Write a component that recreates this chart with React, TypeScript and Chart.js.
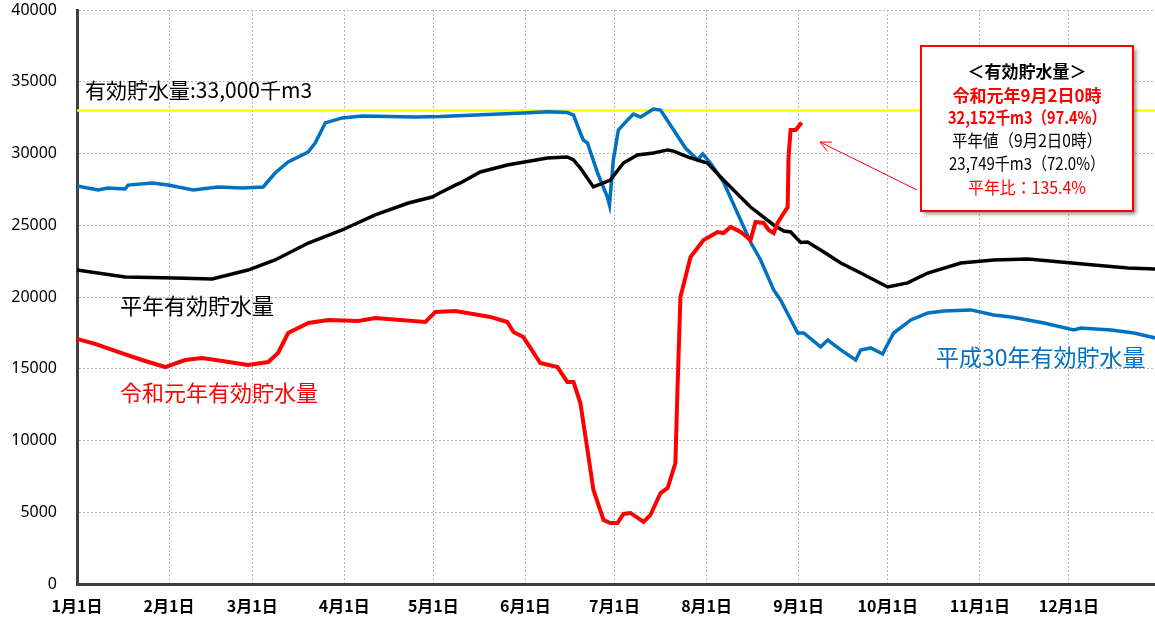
import React, { useEffect, useRef } from "react";
import { Chart, registerables } from "chart.js";

Chart.register(...registerables);

// ---- axis / category data ----
const monthStartDays = [0, 31, 59, 90, 120, 151, 181, 212, 243, 273, 304, 334];
const monthLabels = ["1月1日", "2月1日", "3月1日", "4月1日", "5月1日", "6月1日", "7月1日", "8月1日", "9月1日", "10月1日", "11月1日", "12月1日"];
const yMin = 0;
const yMax = 40000;
const yStep = 5000;
const xMax = 363;

// ---- effective capacity ----
const capacityDays = [0, 363];
const capacityValues = [33000, 33000];

// ---- 平成30年 (blue) ----
const h30Days = [0, 7.1, 10.4, 16.2, 17.2, 25.3, 30.7, 39.1, 47.5, 55.6, 62.7, 66.7, 71.1, 77.8, 80.2, 83.6, 89.3, 96.1, 113.9, 122.3, 150.3, 158.4, 165.1, 167.2, 169.5, 170.5, 171.9, 175.3, 178.6, 179.3, 180.6, 182.3, 185.4, 187.4, 189.8, 194.1, 196.5, 200.9, 204.9, 209.0, 210.7, 213.3, 217.7, 226.8, 230.2, 234.6, 236.9, 242.7, 244.7, 250.4, 252.8, 257.2, 262.2, 263.9, 267.3, 271.3, 272.3, 275.0, 280.8, 286.5, 291.9, 301.0, 308.7, 314.5, 320.2, 325.6, 335.7, 338.0, 348.2, 355.9, 363.3];
const h30Values = [27740, 27460, 27600, 27530, 27800, 27950, 27800, 27460, 27670, 27600, 27670, 28640, 29410, 30100, 30730, 32130, 32480, 32610, 32540, 32570, 32820, 32910, 32850, 32680, 31430, 30940, 30730, 28640, 26970, 26410, 29550, 31640, 32340, 32750, 32540, 33100, 33030, 31640, 30380, 29550, 29970, 29340, 28010, 23830, 22580, 20490, 19790, 17490, 17490, 16520, 17000, 16310, 15610, 16310, 16450, 16030, 16450, 17490, 18400, 18890, 19030, 19100, 18750, 18610, 18400, 18190, 17700, 17840, 17700, 17490, 17140];

// ---- 平年 (black) ----
const normalDays = [0, 16.2, 33.0, 45.5, 57.6, 66.7, 77.9, 89.3, 100.4, 111.6, 119.6, 122.3, 127.4, 129.1, 135.8, 144.9, 158.4, 165.1, 167.2, 169.5, 173.9, 179.6, 184.0, 188.7, 194.1, 198.9, 200.9, 205.6, 210.0, 212.3, 217.7, 226.8, 230.2, 234.6, 238.0, 240.3, 243.7, 246.0, 250.4, 257.2, 263.9, 273.0, 279.7, 286.5, 297.6, 308.7, 320.2, 331.3, 342.4, 353.9, 363.3];
const normalValues = [21880, 21390, 21320, 21260, 21880, 22580, 23760, 24670, 25720, 26550, 26970, 27260, 27800, 27950, 28710, 29200, 29690, 29760, 29550, 28990, 27670, 28150, 29340, 29900, 30040, 30250, 30170, 29760, 29480, 29340, 28150, 26270, 25720, 25020, 24600, 24530, 23800, 23830, 23280, 22370, 21670, 20700, 20980, 21670, 22370, 22580, 22650, 22440, 22230, 22020, 21950];

// ---- 令和元年 (red) ----
const r1Days = [0, 6.1, 13.8, 21.9, 29.7, 36.4, 42.1, 48.9, 57.6, 64.4, 67.7, 71.1, 77.9, 84.6, 94.7, 100.4, 117.3, 120.7, 127.4, 139.2, 144.9, 147.0, 150.3, 156.0, 161.8, 165.1, 167.2, 169.5, 171.9, 173.9, 177.3, 179.6, 182.0, 184.0, 186.4, 190.8, 193.1, 196.5, 198.9, 201.5, 202.2, 203.2, 206.6, 211.0, 215.7, 217.7, 220.1, 223.5, 226.8, 228.5, 231.2, 232.9, 234.6, 235.9, 238.0, 239.3, 239.6, 240.3, 242.0, 244.0];
const r1Values = [17070, 16730, 16170, 15610, 15120, 15610, 15750, 15540, 15260, 15470, 16100, 17490, 18190, 18400, 18330, 18540, 18260, 18960, 19030, 18610, 18260, 17560, 17210, 15400, 15120, 14080, 14080, 12610, 9340, 6550, 4460, 4250, 4250, 4880, 4950, 4320, 4810, 6340, 6690, 8430, 13520, 20000, 22790, 23970, 24530, 24460, 24880, 24530, 23970, 25230, 25160, 24670, 24460, 25160, 25850, 26270, 29760, 31640, 31640, 32152];

// ---- texts ----
const capacityLabel = "有効貯水量:33,000千m3";
const normalLabel = "平年有効貯水量";
const r1Label = "令和元年有効貯水量";
const h30Label = "平成30年有効貯水量";
const boxLines = ["＜有効貯水量＞", "令和元年9月2日0時", "32,152千m3（97.4%）", "平年値（9月2日0時）", "23,749千m3（72.0%）", "平年比：135.4%"];
const boxColors = ["#000000", "#ff0000", "#ff0000", "#000000", "#000000", "#ff0000"];
const boxBold = [true, true, true, false, false, false];

const toPoints = (xs: number[], ys: number[]) => xs.map((x, i) => ({ x, y: ys[i] }));

const JP = '"Noto Sans CJK JP", "Noto Sans", sans-serif';

const annotationPlugin = {
  id: "annotations",
  afterDraw(chart: any) {
    const ctx: CanvasRenderingContext2D = chart.ctx;
    ctx.save();
    ctx.textBaseline = "middle";
    ctx.textAlign = "left";

    ctx.font = `21px ${JP}`;
    ctx.fillStyle = "#000000";
    ctx.fillText(capacityLabel, 85, 90);

    ctx.font = `22px ${JP}`;
    ctx.fillStyle = "#000000";
    ctx.fillText(normalLabel, 120, 306);

    ctx.fillStyle = "#ff0000";
    ctx.fillText(r1Label, 120, 393);

    ctx.font = `23px ${JP}`;
    ctx.fillStyle = "#0070c0";
    ctx.fillText(h30Label, 936, 357);

    // arrow
    ctx.strokeStyle = "#ff0000";
    ctx.lineWidth = 1;
    ctx.beginPath();
    ctx.moveTo(917, 190);
    ctx.lineTo(820, 142);
    ctx.stroke();
    const ang = Math.atan2(190 - 142, 917 - 820);
    const L = 12;
    ctx.beginPath();
    ctx.moveTo(820 + L * Math.cos(ang + 0.45), 142 + L * Math.sin(ang + 0.45));
    ctx.lineTo(820, 142);
    ctx.lineTo(820 + L * Math.cos(ang - 0.45), 142 + L * Math.sin(ang - 0.45));
    ctx.stroke();

    // box
    const bx = 921, by = 46, bw = 212, bh = 165;
    ctx.save();
    ctx.shadowColor = "rgba(0,0,0,0.45)";
    ctx.shadowBlur = 4;
    ctx.shadowOffsetX = 3;
    ctx.shadowOffsetY = 3;
    ctx.fillStyle = "#ffffff";
    ctx.fillRect(bx, by, bw, bh);
    ctx.restore();
    ctx.strokeStyle = "#ff0000";
    ctx.lineWidth = 2;
    ctx.strokeRect(bx, by, bw, bh);

    const ys = [72, 96, 118, 141, 164, 188];
    const maxW = [126, 152, 158, 150, 156, 118];
    ctx.textAlign = "center";
    boxLines.forEach((t, i) => {
      ctx.font = `${boxBold[i] ? "bold " : ""}17px ${JP}`;
      ctx.fillStyle = boxColors[i];
      ctx.fillText(t, 1027, ys[i], maxW[i]);
    });
    ctx.restore();
  },
};

export default function App() {
  const ref = useRef<HTMLCanvasElement | null>(null);

  useEffect(() => {
    document.body.style.margin = "0";
    const canvas = ref.current;
    if (!canvas) return;
    const chart = new Chart(canvas, {
      type: "line",
      data: {
        datasets: [
          {
            label: "令和元年",
            data: toPoints(r1Days, r1Values),
            borderColor: "#ff0000",
            borderWidth: 4,
            pointRadius: 0,
            tension: 0,
            fill: false,
          },
          {
            label: "平年",
            data: toPoints(normalDays, normalValues),
            borderColor: "#000000",
            borderWidth: 3.5,
            pointRadius: 0,
            tension: 0,
            fill: false,
          },
          {
            label: "平成30年",
            data: toPoints(h30Days, h30Values),
            borderColor: "#0070c0",
            borderWidth: 3.5,
            pointRadius: 0,
            tension: 0,
            fill: false,
          },
          {
            label: "有効貯水量",
            data: toPoints(capacityDays, capacityValues),
            borderColor: "#ffff00",
            borderWidth: 2.5,
            pointRadius: 0,
            fill: false,
          },
        ],
      },
      options: {
        animation: false,
        responsive: false,
        devicePixelRatio: 1,
        layout: { padding: { top: 10, right: 0, left: 0, bottom: 0 } },
        plugins: { legend: { display: false }, tooltip: { enabled: false } },
        scales: {
          x: {
            type: "linear",
            min: 0,
            max: xMax,
            afterBuildTicks: (scale: any) => {
              scale.ticks = monthStartDays.map((v) => ({ value: v }));
            },
            afterFit: (scale: any) => {
              scale.height = 39;
            },
            ticks: {
              autoSkip: false,
              maxRotation: 0,
              minRotation: 0,
              padding: 12,
              color: "#000000",
              font: { family: JP, size: 16, weight: "bold" },
              callback: (value: any) => {
                const idx = monthStartDays.indexOf(Number(value));
                return idx >= 0 ? monthLabels[idx] : "";
              },
            },
            grid: { color: "#b8b8b8", lineWidth: 1, drawTicks: false },
            border: { display: true, color: "#404040", width: 3, dash: [2, 2] },
          },
          y: {
            min: yMin,
            max: yMax,
            afterFit: (scale: any) => {
              scale.width = 77;
              scale.paddingTop = 0;
              scale.paddingBottom = 0;
            },
            ticks: {
              stepSize: yStep,
              padding: 20,
              color: "#000000",
              font: { family: '"Noto Sans", sans-serif', size: 16 },
              callback: (value: any) => String(value),
            },
            grid: { color: "#b8b8b8", lineWidth: 1, drawTicks: false },
            border: { display: true, color: "#404040", width: 3, dash: [2, 2] },
          },
        },
      },
      plugins: [annotationPlugin],
    } as any);
    return () => chart.destroy();
  }, []);

  return (
    <div style={{ position: "absolute", left: 0, top: 0, width: 1155, height: 623, background: "#ffffff" }}>
      <canvas ref={ref} width={1155} height={623} style={{ width: 1155, height: 623, display: "block" }} />
    </div>
  );
}
